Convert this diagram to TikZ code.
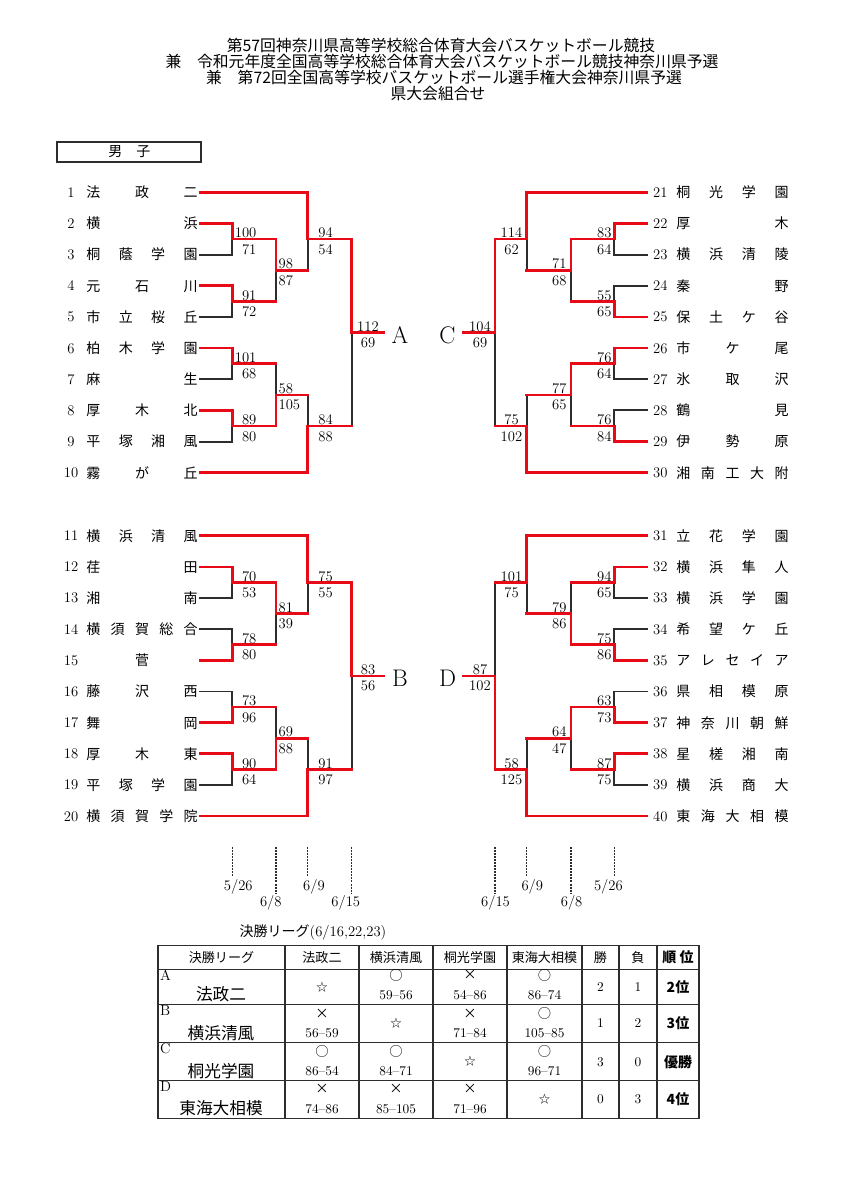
\documentclass[tikz,border=0pt]{standalone}
\usepackage{fontspec}
\newfontfamily\cjk{Noto Sans CJK JP}
\pgfdeclarelayer{bg}
\pgfdeclarelayer{paper}
\pgfsetlayers{paper,bg,main}
\definecolor{bred}{RGB}{232,10,22}
\definecolor{bgray}{RGB}{45,45,45}
\tikzset{
  bhi/.style={draw=bred,line width=2pt,line cap=rect,line join=miter},
  blo/.style={draw=bgray,line width=1.4pt,line cap=rect},
  tnum/.style={font=\fontsize{11}{12}\selectfont,anchor=base,yshift=-3.7pt,inner sep=0pt},
  tname/.style={font=\cjk\fontsize{10.5}{12}\selectfont,anchor=base,yshift=-4pt,inner sep=0pt},
  tscore/.style={font=\fontsize{11}{12}\selectfont,inner sep=0pt},
  grp/.style={font=\fontsize{18}{20}\selectfont,anchor=base,yshift=-8.1pt,inner sep=0pt},
  datedash/.style={draw=bgray,line width=0.9pt,dash pattern=on 1.5pt off 0.8pt},
  datelbl/.style={font=\fontsize{11}{12}\selectfont,anchor=base,inner sep=0pt},
  ttitle/.style={font=\cjk\fontsize{11.85}{12}\selectfont,anchor=base,inner sep=0pt},
  tgrid/.style={draw=bgray,line width=0.9pt,line cap=rect},
  thead/.style={font=\cjk\fontsize{9.8}{11}\selectfont,inner sep=0pt},
  tbig/.style={font=\cjk\fontsize{12.5}{14}\selectfont,inner sep=0pt},
  tsym/.style={font=\cjk\fontsize{10}{11}\selectfont,inner sep=0pt},
  tstar/.style={font=\cjk\fontsize{8.5}{10}\selectfont,inner sep=0pt},
  tval/.style={font=\fontsize{10}{11}\selectfont,inner sep=0pt},
  trank/.style={font=\cjk\bfseries\fontsize{10.5}{12}\selectfont,inner sep=0pt},
  tlet/.style={font=\fontsize{11}{12}\selectfont,anchor=base west,inner sep=0pt},
}
\newcommand\LO[1]{\begin{pgfonlayer}{bg}\draw[blo] #1;\end{pgfonlayer}}
% match: xv, xnext, top row, bottom row, mid row, winner t/b
\newcommand\Mch[6]{%
  \if t#6\relax
    \LO{(#1,#5) -- (#1,#4)}%
    \draw[bhi] (#1,#3) -- (#1,#5) -- (#2,#5);%
  \else
    \LO{(#1,#3) -- (#1,#5)}%
    \draw[bhi] (#1,#4) -- (#1,#5) -- (#2,#5);%
  \fi}
% team line: xend, row, flag, wanted
\newcommand\TLine[4]{%
  \if #3#4\relax
    \draw[bhi] (\xT,#2) -- (#1,#2);%
  \else
    \LO{(\xT,#2) -- (#1,#2)}%
  \fi}
\newcommand\Bracket[9]{%
  \TLine{\xC}{1}{#7}{t}%
  \TLine{\xA}{2}{#1}{t}\TLine{\xA}{3}{#1}{b}%
  \TLine{\xA}{4}{#2}{t}\TLine{\xA}{5}{#2}{b}%
  \TLine{\xA}{6}{#3}{t}\TLine{\xA}{7}{#3}{b}%
  \TLine{\xA}{8}{#4}{t}\TLine{\xA}{9}{#4}{b}%
  \TLine{\xC}{10}{#8}{b}%
  \Mch{\xA}{\xB}{2}{3}{2.5}{#1}%
  \Mch{\xA}{\xB}{4}{5}{4.5}{#2}%
  \Mch{\xA}{\xB}{6}{7}{6.5}{#3}%
  \Mch{\xA}{\xB}{8}{9}{8.5}{#4}%
  \Mch{\xB}{\xC}{2.5}{4.5}{3.5}{#5}%
  \Mch{\xB}{\xC}{6.5}{8.5}{7.5}{#6}%
  \Mch{\xC}{\xD}{1}{3.5}{2.5}{#7}%
  \Mch{\xC}{\xD}{7.5}{10}{8.5}{#8}%
  \Mch{\xD}{\xE}{2.5}{8.5}{5.5}{#9}}
\newcommand\SC[5]{%
  \node[tscore,#5,yshift=1pt] at (#1,#2) {#3};%
  \node[tscore,#5,yshift=-11.25pt] at (#1,#2) {#4};}
\newcommand\Team[4]{%
  \node[tnum] (n#2) at (\numX,#1) {#2};%
  \ifnum#3=1
    \node[tname] at ({(\nmA+\nmB)/2},#1) {#4};%
  \else
    \foreach \c [count=\i] in {#4} {%
      \node[tname] at ({\nmA+(\i-1)*(\nmB-\nmA)/(#3-1)},#1) {\c};}%
  \fi}
\newcommand\LeftSide{%
  \def\xT{200}\def\xA{232.3}\def\xB{276}\def\xC{307.7}\def\xD{351.7}\def\xE{383.3}%
  \def\numX{71}\def\nmA{93.3}\def\nmB{190.7}%
  \def\sA{256.7}\def\sB{278.3}\def\sC{325.5}\def\sD{368}%
  \tikzset{kA/.style={anchor=base east},kB/.style={anchor=base west},kC/.style={anchor=base},kD/.style={anchor=base}}}
\newcommand\RightSide{%
  \def\xT{646.7}\def\xA{614.3}\def\xB{571}\def\xC{526.7}\def\xD{495}\def\xE{463.3}%
  \def\numX{660.3}\def\nmA{683.3}\def\nmB{781.7}%
  \def\sA{611.7}\def\sB{566.7}\def\sC{511.5}\def\sD{480}%
  \tikzset{kA/.style={anchor=base east},kB/.style={anchor=base east},kC/.style={anchor=base},kD/.style={anchor=base}}}
\newcommand\Cell[4]{%
  \node[tsym] at (#1,{#2-29}) {#3};%
  \node[tval] at (#1,{#2-9.3}) {#4};}
\newcommand\StarC[3]{\node[tstar] at (#1,{(#2+#3)/2}) {☆};}

\begin{document}
\begin{tikzpicture}[x=0.75pt,y=-0.75pt]
\begin{pgfonlayer}{paper}
\fill[white] (0,0) rectangle (848,1200);
\end{pgfonlayer}
\useasboundingbox (0,0) rectangle (848,1200);

% title
\node[ttitle] (t1) at (441,51.3) {第57回神奈川県高等学校総合体育大会バスケットボール競技};
\node[ttitle] (t2) at (442,67.3) {兼　令和元年度全国高等学校総合体育大会バスケットボール競技神奈川県予選};
\node[ttitle] (t3) at (444,83.3) {兼　第72回全国高等学校バスケットボール選手権大会神奈川県予選};
\node[ttitle] (t4) at (438,99) {県大会組合せ};

% header box
\draw[bgray,line width=1.6pt] (56.7,142.3) rectangle (201,161.7);
\node[font=\cjk\fontsize{10.5}{12}\selectfont,inner sep=0pt] (boys) at (129.3,151.7) {男　子};

% ---------------- upper half: A and C
\begin{scope}[yshift=-120.855pt,y=-23.37pt]
 \begin{scope}
  \LeftSide
  \Bracket{t}{t}{t}{t}{t}{b}{t}{b}{t}
  \Team{1}{1}{3}{法,政,二}
  \Team{2}{2}{2}{横,浜}
  \Team{3}{3}{4}{桐,蔭,学,園}
  \Team{4}{4}{3}{元,石,川}
  \Team{5}{5}{4}{市,立,桜,丘}
  \Team{6}{6}{4}{柏,木,学,園}
  \Team{7}{7}{2}{麻,生}
  \Team{8}{8}{3}{厚,木,北}
  \Team{9}{9}{4}{平,塚,湘,風}
  \Team{10}{10}{3}{霧,が,丘}
  \SC{\sA}{2.5}{100}{71}{kA}
  \SC{\sA}{4.5}{91}{72}{kA}
  \SC{\sA}{6.5}{101}{68}{kA}
  \SC{\sA}{8.5}{89}{80}{kA}
  \SC{\sB}{3.5}{98}{87}{kB}
  \SC{\sB}{7.5}{58}{105}{kB}
  \SC{\sC}{2.5}{94}{54}{kC}
  \SC{\sC}{8.5}{84}{88}{kC}
  \SC{\sD}{5.5}{112}{69}{kD}
  \node[grp] (gA) at (400,5.5) {A};
 \end{scope}
 \begin{scope}
  \RightSide
  \Bracket{t}{b}{t}{b}{t}{t}{t}{b}{t}
  \Team{1}{21}{4}{桐,光,学,園}
  \Team{2}{22}{2}{厚,木}
  \Team{3}{23}{4}{横,浜,清,陵}
  \Team{4}{24}{2}{秦,野}
  \Team{5}{25}{4}{保,土,ケ,谷}
  \Team{6}{26}{3}{市,ケ,尾}
  \Team{7}{27}{3}{氷,取,沢}
  \Team{8}{28}{2}{鶴,見}
  \Team{9}{29}{3}{伊,勢,原}
  \Team{10}{30}{5}{湘,南,工,大,附}
  \SC{\sA}{2.5}{83}{64}{kA}
  \SC{\sA}{4.5}{55}{65}{kA}
  \SC{\sA}{6.5}{76}{64}{kA}
  \SC{\sA}{8.5}{76}{84}{kA}
  \SC{\sB}{3.5}{71}{68}{kB}
  \SC{\sB}{7.5}{77}{65}{kB}
  \SC{\sC}{2.5}{114}{62}{kC}
  \SC{\sC}{8.5}{75}{102}{kC}
  \SC{\sD}{5.5}{104}{69}{kD}
  \node[grp] (gC) at (447.5,5.5) {C};
 \end{scope}
\end{scope}

% ---------------- lower half: B and D
\begin{scope}[yshift=-378.405pt,y=-23.37pt]
 \begin{scope}
  \LeftSide
  \Bracket{t}{b}{b}{t}{t}{b}{t}{b}{t}
  \Team{1}{11}{4}{横,浜,清,風}
  \Team{2}{12}{2}{荏,田}
  \Team{3}{13}{2}{湘,南}
  \Team{4}{14}{5}{横,須,賀,総,合}
  \Team{5}{15}{1}{菅}
  \Team{6}{16}{3}{藤,沢,西}
  \Team{7}{17}{2}{舞,岡}
  \Team{8}{18}{3}{厚,木,東}
  \Team{9}{19}{4}{平,塚,学,園}
  \Team{10}{20}{5}{横,須,賀,学,院}
  \SC{\sA}{2.5}{70}{53}{kA}
  \SC{\sA}{4.5}{78}{80}{kA}
  \SC{\sA}{6.5}{73}{96}{kA}
  \SC{\sA}{8.5}{90}{64}{kA}
  \SC{\sB}{3.5}{81}{39}{kB}
  \SC{\sB}{7.5}{69}{88}{kB}
  \SC{\sC}{2.5}{75}{55}{kC}
  \SC{\sC}{8.5}{91}{97}{kC}
  \SC{\sD}{5.5}{83}{56}{kD}
  \node[grp] (gB) at (400,5.5) {B};
 \end{scope}
 \begin{scope}
  \RightSide
  \Bracket{t}{b}{b}{t}{b}{t}{t}{b}{b}
  \Team{1}{31}{4}{立,花,学,園}
  \Team{2}{32}{4}{横,浜,隼,人}
  \Team{3}{33}{4}{横,浜,学,園}
  \Team{4}{34}{4}{希,望,ケ,丘}
  \Team{5}{35}{5}{ア,レ,セ,イ,ア}
  \Team{6}{36}{4}{県,相,模,原}
  \Team{7}{37}{5}{神,奈,川,朝,鮮}
  \Team{8}{38}{4}{星,槎,湘,南}
  \Team{9}{39}{4}{横,浜,商,大}
  \Team{10}{40}{5}{東,海,大,相,模}
  \SC{\sA}{2.5}{94}{65}{kA}
  \SC{\sA}{4.5}{75}{86}{kA}
  \SC{\sA}{6.5}{63}{73}{kA}
  \SC{\sA}{8.5}{87}{75}{kA}
  \SC{\sB}{3.5}{79}{86}{kB}
  \SC{\sB}{7.5}{64}{47}{kB}
  \SC{\sC}{2.5}{101}{75}{kC}
  \SC{\sC}{8.5}{58}{125}{kC}
  \SC{\sD}{5.5}{87}{102}{kD}
  \node[grp] (gD) at (447.5,5.5) {D};
 \end{scope}
\end{scope}

% ---------------- dates
\coordinate (d1a) at (232.3,846.7); \coordinate (d1b) at (232.3,877);
\coordinate (d2a) at (276,846.7);   \coordinate (d2b) at (276,893);
\coordinate (d3a) at (307.7,846.7); \coordinate (d3b) at (307.7,877);
\coordinate (d4a) at (351.7,846.7); \coordinate (d4b) at (351.7,893);
\coordinate (d5a) at (495,846.7);   \coordinate (d5b) at (495,893);
\coordinate (d6a) at (526.7,846.7); \coordinate (d6b) at (526.7,877);
\coordinate (d7a) at (571,846.7);   \coordinate (d7b) at (571,893);
\coordinate (d8a) at (614.3,846.7); \coordinate (d8b) at (614.3,877);
\foreach \k in {1,...,8} \draw[datedash] (d\k a) -- (d\k b);
\node[datelbl] (l1) at (238.3,890) {5/26};
\node[datelbl] (l2) at (270.8,906) {6/8};
\node[datelbl] (l3) at (314,890) {6/9};
\node[datelbl] (l4) at (345.8,906) {6/15};
\node[datelbl] (l5) at (495.5,906) {6/15};
\node[datelbl] (l6) at (532.3,890) {6/9};
\node[datelbl] (l7) at (571.6,906) {6/8};
\node[datelbl] (l8) at (608.4,890) {5/26};

% ---------------- league table
\node[inner sep=0pt] (lg) at (313,932.3) {{\cjk\fontsize{10.5}{12}\selectfont 決勝リーグ}{\fontsize{11}{12}\selectfont (6/16,22,23)}};
\foreach \x in {158,285,359,433,507,582,619,657,699} \draw[tgrid] (\x,945.7) -- (\x,1118.3);
\foreach \y in {945.7,969.3,1004.3,1042.7,1080.7,1118.3} \draw[tgrid] (158,\y) -- (699,\y);
\node[thead] at (221.5,957.5) {決勝リーグ};
\node[thead] at (322,957.5) {法政二};
\node[thead] at (396,957.5) {横浜清風};
\node[thead] at (470,957.5) {桐光学園};
\node[thead] at (544.5,957.5) {東海大相模};
\node[thead] at (600.5,957.5) {勝};
\node[thead] at (638,957.5) {負};
\node[trank] at (678,957.5) {順 位};
% row A
\node[tlet] at (159.8,980) {A};
\node[tbig] at (221,994.5) {法政二};
\StarC{322}{969.3}{1004.3}
\Cell{396}{1004.3}{○}{59–56}
\Cell{470}{1004.3}{×}{54–86}
\Cell{544.5}{1004.3}{○}{86–74}
\node[tval] at (600.5,986.8) {2};
\node[tval] at (638,986.8) {1};
\node[trank] at (678,986.8) {2位};
% row B
\node[tlet] at (159.8,1015) {B};
\node[tbig] at (221,1032.9) {横浜清風};
\Cell{322}{1042.7}{×}{56–59}
\StarC{396}{1004.3}{1042.7}
\Cell{470}{1042.7}{×}{71–84}
\Cell{544.5}{1042.7}{○}{105–85}
\node[tval] at (600.5,1023.5) {1};
\node[tval] at (638,1023.5) {2};
\node[trank] at (678,1023.5) {3位};
% row C
\node[tlet] at (159.8,1053.4) {C};
\node[tbig] at (221,1070.9) {桐光学園};
\Cell{322}{1080.7}{○}{86–54}
\Cell{396}{1080.7}{○}{84–71}
\StarC{470}{1042.7}{1080.7}
\Cell{544.5}{1080.7}{○}{96–71}
\node[tval] at (600.5,1061.7) {3};
\node[tval] at (638,1061.7) {0};
\node[trank] at (678,1061.7) {優勝};
% row D
\node[tlet] at (159.8,1091.4) {D};
\node[tbig] at (221,1108.5) {東海大相模};
\Cell{322}{1118.3}{×}{74–86}
\Cell{396}{1118.3}{×}{85–105}
\Cell{470}{1118.3}{×}{71–96}
\StarC{544.5}{1080.7}{1118.3}
\node[tval] at (600.5,1099.5) {0};
\node[tval] at (638,1099.5) {3};
\node[trank] at (678,1099.5) {4位};
\end{tikzpicture}
\end{document}
